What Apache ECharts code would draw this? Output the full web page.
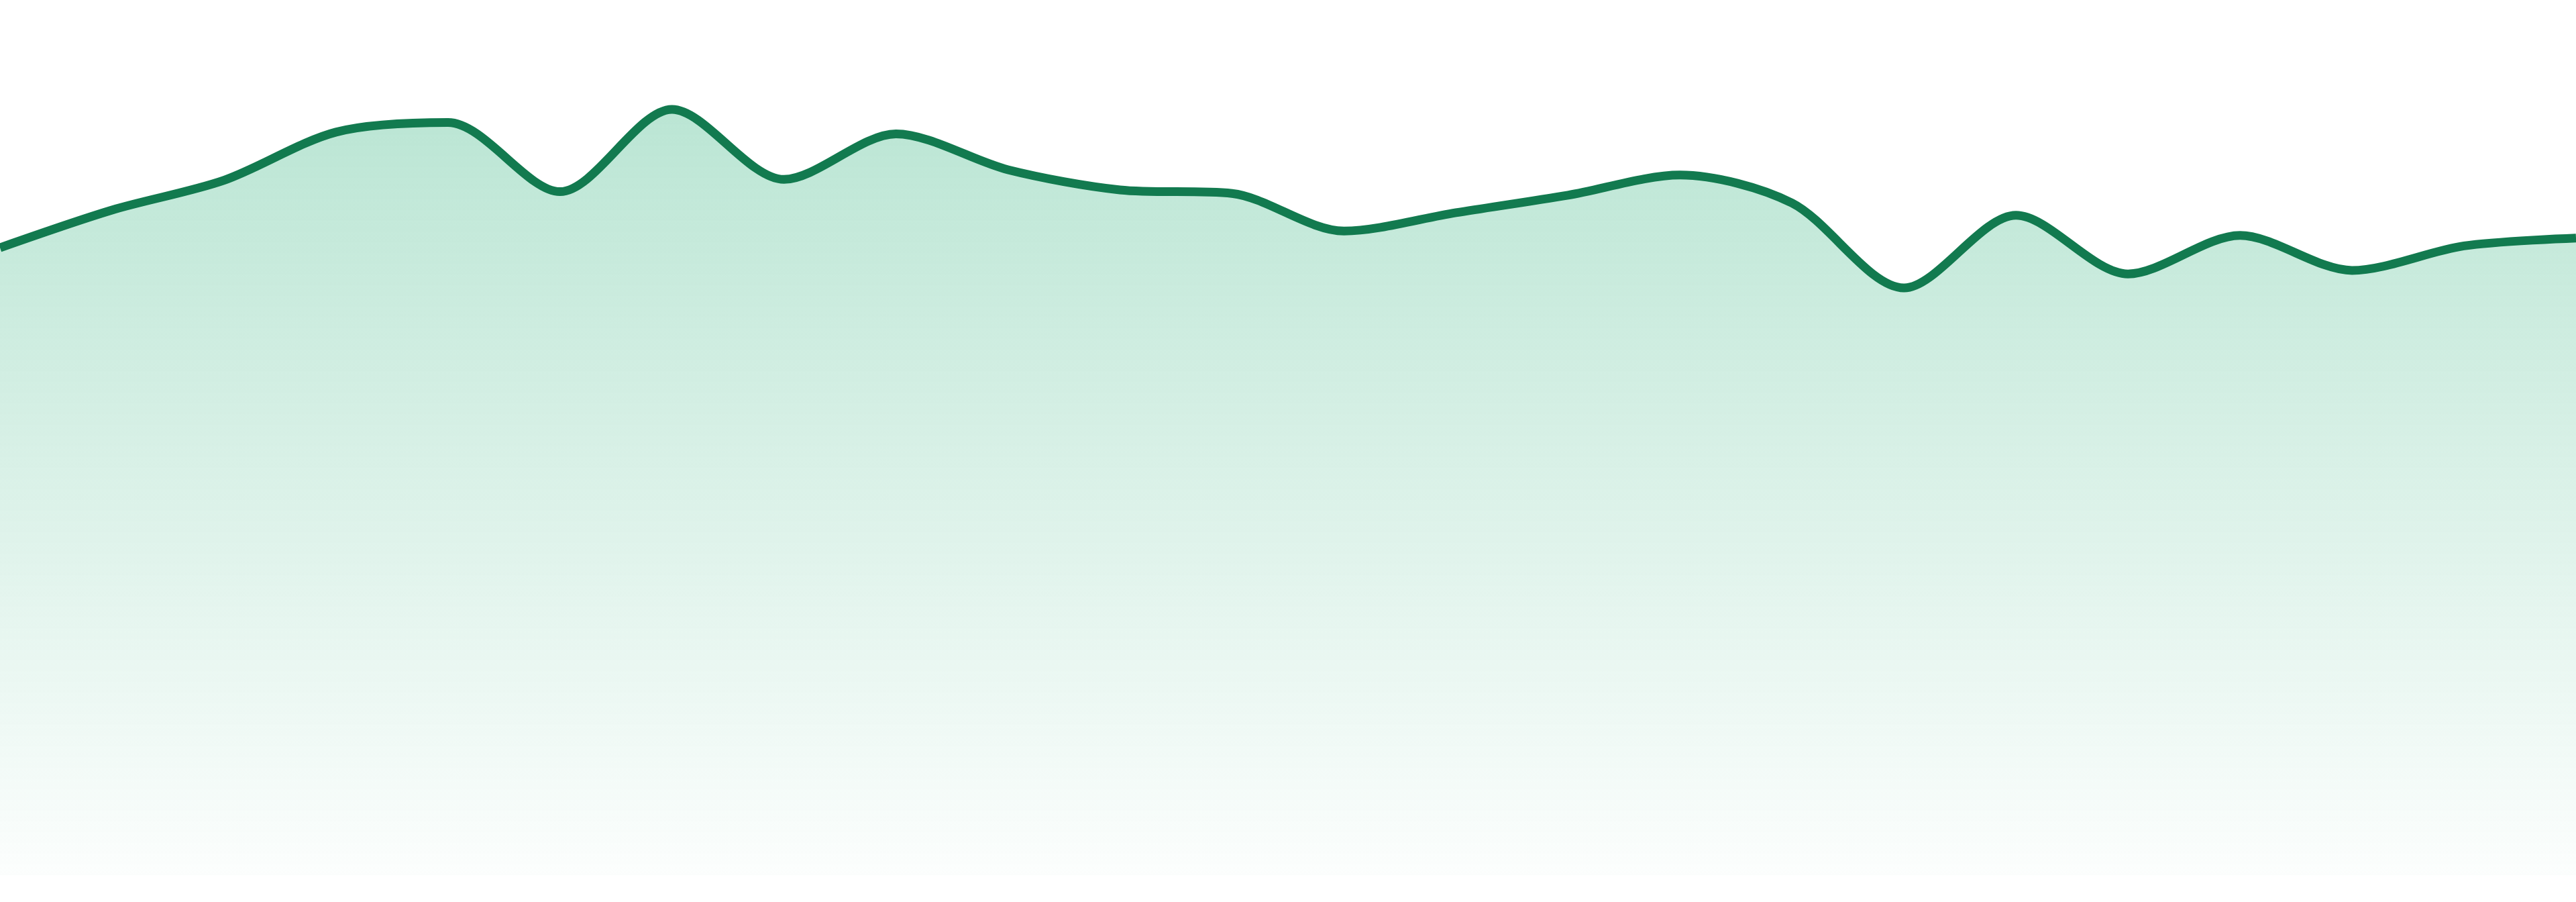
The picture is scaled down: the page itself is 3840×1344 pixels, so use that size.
<!DOCTYPE html>
<html>
<head>
<meta charset="utf-8">
<title>area</title>
<script src="https://cdn.jsdelivr.net/npm/echarts@6/dist/echarts.min.js"></script>
<style>
  html, body { margin: 0; padding: 0; background: #fff; }
  #main { width: 3840px; height: 1344px; }
</style>
</head>
<body>
<div id="main"></div>
<script>
// x categories (no labels shown in the picture)
var categories = ['1', '2', '3', '4', '5', '6', '7', '8', '9', '10', '11', '12',
                  '13', '14', '15', '16', '17', '18', '19', '20', '21', '22', '23', '24'];
// values, 0..100 of the plot height
var values = [71.7, 76.0, 79.4, 84.9, 86.0, 78.1, 87.5, 79.5, 84.7, 80.6, 78.3, 77.9,
              73.6, 75.7, 77.7, 80.0, 76.8, 67.1, 75.4, 68.7, 73.1, 69.1, 71.9, 72.8];

var chart = echarts.init(document.getElementById('main'));
var option = {
    animation: false,
    grid: { left: 0, right: 0, top: 0, bottom: 40 },
    xAxis: {
        type: 'category',
        boundaryGap: false,
        data: categories,
        show: false
    },
    yAxis: {
        type: 'value',
        min: 0,
        max: 100,
        show: false
    },
    series: [{
        type: 'line',
        data: values,
        smooth: 0.3,
        symbol: 'none',
        lineStyle: { color: '#127a4f', width: 13 },
        areaStyle: {
            color: new echarts.graphic.LinearGradient(0, 0, 0, 1, [
                { offset: 0, color: 'rgba(22,168,108,0.42)' },
                { offset: 1, color: 'rgba(22,168,108,0.02)' }
            ])
        }
    }]
};
chart.setOption(option);
</script>
</body>
</html>
